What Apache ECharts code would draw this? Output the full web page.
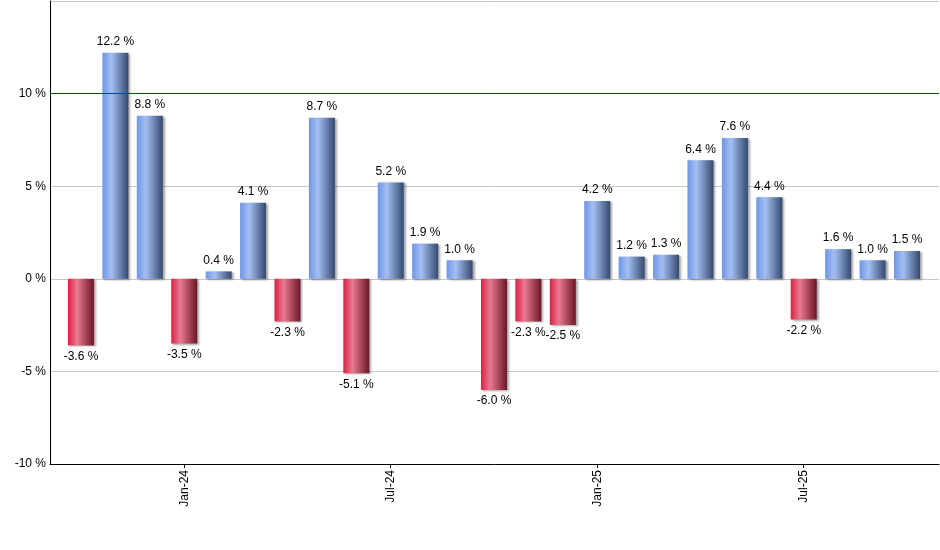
<!DOCTYPE html>
<html>
<head>
<meta charset="utf-8">
<script src="https://cdn.jsdelivr.net/npm/echarts@6/dist/echarts.min.js"></script>
<style>html,body{margin:0;padding:0;background:#fff}#c{width:940px;height:550px}</style>
</head>
<body>
<div id="c"></div>
<script>
const categories = ['Oct-23','Nov-23','Dec-23','Jan-24','Feb-24','Mar-24','Apr-24','May-24','Jun-24','Jul-24','Aug-24','Sep-24','Oct-24','Nov-24','Dec-24','Jan-25','Feb-25','Mar-25','Apr-25','May-25','Jun-25','Jul-25','Aug-25','Sep-25','Oct-25'];
const values = [-3.6,12.2,8.8,-3.5,0.4,4.1,-2.3,8.7,-5.1,5.2,1.9,1.0,-6.0,-2.3,-2.5,4.2,1.2,1.3,6.4,7.6,4.4,-2.2,1.6,1.0,1.5];
const tickLabels = ['Jan-24','Jul-24','Jan-25','Jul-25'];
const yTicks = [-10,-5,0,5,10,15];

const tickIdx = tickLabels.map(t => categories.indexOf(t));
const blue = new echarts.graphic.LinearGradient(0,0,1,0,[
  {offset:0,color:'#6f95e6'},{offset:0.35,color:'#a3bff2'},{offset:1,color:'#34496e'}]);
const red = new echarts.graphic.LinearGradient(0,0,1,0,[
  {offset:0,color:'#dc2044'},{offset:0.35,color:'#e97a91'},{offset:1,color:'#6a1626'}]);
const font = 'Liberation Sans, Arial, sans-serif';

const chart = echarts.init(document.getElementById('c'));
chart.setOption({
  animation:false,
  grid:{left:50,right:1,top:1,bottom:86,containLabel:false},
  xAxis:{
    type:'value', min:-0.9, max:24.93,
    splitLine:{show:false},
    axisLine:{show:true,onZero:false,lineStyle:{color:'#000',width:1}},
    axisTick:{show:true,customValues:tickIdx,length:4,lineStyle:{color:'#000'}},
    axisLabel:{customValues:tickIdx,rotate:90,margin:6,color:'#000',fontSize:12,fontFamily:font,
      formatter:v=>categories[Math.round(v)]}
  },
  yAxis:{
    type:'value', min:yTicks[0], max:yTicks[yTicks.length-1], interval:5,
    axisLine:{show:true,onZero:false,lineStyle:{color:'#000',width:1}},
    axisTick:{show:false},
    splitLine:{show:true,lineStyle:{color:'#c8c8c8',width:1}},
    axisLabel:{color:'#000',fontSize:12,fontFamily:font,margin:4,
      formatter:v=> v===15 ? '' : v+' %'}
  },
  series:[{
    type:'bar',
    barWidth:26,
    data:values.map((v,i)=>({
      value:[i,v],
      itemStyle:{color:v>=0?blue:red},
      label:{position: v>=0?'top':'bottom'}
    })),
    itemStyle:{shadowColor:'rgba(0,0,0,0.35)',shadowBlur:2,shadowOffsetX:2,shadowOffsetY:1},
    label:{show:true,distance:5,color:'#000',fontSize:12,fontFamily:font,
      formatter:p=>p.value[1].toFixed(1)+' %'},
    markLine:{silent:true,symbol:'none',label:{show:false},
      lineStyle:{color:'#006400',type:'solid',width:1},
      data:[{yAxis:10}]}
  }]
});
</script>
</body>
</html>
